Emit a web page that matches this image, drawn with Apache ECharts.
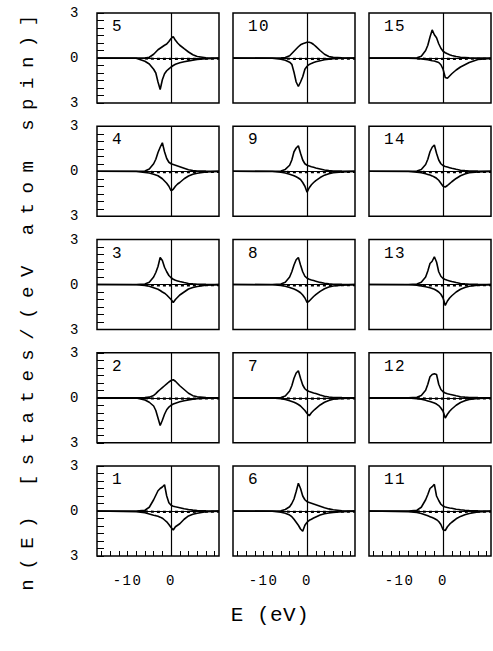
<!DOCTYPE html>
<html><head><meta charset="utf-8">
<script src="https://cdn.jsdelivr.net/npm/echarts@6/dist/echarts.min.js"></script>
<style>
html,body{margin:0;padding:0;background:#fff}
#c{width:493px;height:651px}
#c text{letter-spacing:1.5px}
</style></head><body><div id="c"></div>
<script>
// Energy grid (eV) shared by all panels
const energy = [-17,-8,-6,-5,-4,-3.5,-3,-2.5,-2,-1.5,-1,-0.5,0,0.5,1,1.5,2,3,4,5,6,8,11];

const up1 = [0,0,0.05,0.25,0.75,1.05,1.35,1.5,1.6,1.75,1.0,0.55,0.38,0.32,0.28,0.25,0.22,0.15,0.1,0.06,0.03,0.01,0];
const down1 = [0,-0.05,-0.12,-0.2,-0.28,-0.31,-0.35,-0.41,-0.48,-0.6,-0.72,-0.9,-1.1,-1.27,-1.05,-0.95,-0.85,-0.55,-0.33,-0.22,-0.15,-0.05,-0.01];
const up2 = [0,0,0.01,0.04,0.15,0.28,0.42,0.55,0.68,0.8,0.92,1.05,1.15,1.2,1.1,0.95,0.8,0.55,0.3,0.14,0.06,0.01,0];
const down2 = [0,-0.02,-0.15,-0.3,-0.55,-0.85,-1.35,-1.85,-1.5,-1.1,-0.8,-0.62,-0.5,-0.42,-0.36,-0.31,-0.27,-0.2,-0.14,-0.1,-0.07,-0.03,-0.01];
const up3 = [0,0,0.03,0.15,0.5,0.8,1.2,1.8,1.6,1.15,0.85,0.6,0.45,0.35,0.28,0.24,0.2,0.13,0.07,0.04,0.02,0.01,0];
const down3 = [0,-0.02,-0.07,-0.12,-0.22,-0.27,-0.32,-0.4,-0.5,-0.58,-0.7,-0.85,-1.0,-1.2,-1.0,-0.85,-0.7,-0.5,-0.3,-0.2,-0.13,-0.05,-0.01];
const up4 = [0,0,0.02,0.15,0.5,0.8,1.25,1.6,1.9,1.3,0.85,0.6,0.5,0.45,0.4,0.35,0.3,0.2,0.1,0.05,0.02,0.01,0];
const down4 = [0,-0.02,-0.08,-0.12,-0.2,-0.25,-0.3,-0.4,-0.5,-0.65,-0.8,-1.0,-1.3,-1.2,-1.0,-0.85,-0.75,-0.5,-0.32,-0.2,-0.13,-0.05,-0.01];
const up5 = [0,0,0,0.05,0.25,0.4,0.55,0.65,0.75,0.85,0.93,1.1,1.3,1.42,1.18,1.0,0.85,0.62,0.4,0.22,0.1,0.02,0];
const down5 = [0,-0.02,-0.22,-0.4,-0.75,-1.0,-1.6,-2.1,-1.45,-1.05,-0.85,-0.72,-0.6,-0.5,-0.42,-0.37,-0.32,-0.25,-0.19,-0.14,-0.1,-0.05,-0.02];
const up6 = [0,0,0.02,0.1,0.28,0.5,0.8,1.3,1.85,1.5,1.0,0.75,0.62,0.57,0.52,0.47,0.42,0.32,0.22,0.14,0.08,0.02,0];
const down6 = [0,-0.02,-0.08,-0.15,-0.27,-0.38,-0.55,-0.75,-0.95,-1.2,-1.35,-0.95,-0.75,-0.62,-0.55,-0.47,-0.4,-0.27,-0.18,-0.13,-0.1,-0.04,-0.01];
const up7 = [0,0,0.02,0.12,0.45,0.8,1.3,1.65,1.8,1.3,0.85,0.6,0.48,0.42,0.37,0.32,0.28,0.18,0.1,0.05,0.02,0.01,0];
const down7 = [0,-0.02,-0.07,-0.12,-0.2,-0.25,-0.3,-0.37,-0.45,-0.55,-0.7,-0.85,-1.05,-1.2,-1.0,-0.85,-0.72,-0.48,-0.3,-0.18,-0.1,-0.04,-0.01];
const up8 = [0,0,0.03,0.15,0.5,0.85,1.3,1.65,1.8,1.3,0.85,0.55,0.42,0.35,0.3,0.26,0.22,0.14,0.08,0.04,0.02,0.01,0];
const down8 = [0,-0.02,-0.07,-0.12,-0.2,-0.25,-0.3,-0.37,-0.45,-0.55,-0.7,-0.9,-1.2,-1.1,-0.95,-0.8,-0.68,-0.46,-0.28,-0.17,-0.1,-0.04,-0.01];
const up9 = [0,0,0.02,0.12,0.4,0.75,1.3,1.55,1.7,1.2,0.75,0.5,0.4,0.35,0.3,0.26,0.22,0.15,0.08,0.04,0.02,0.01,0];
const down9 = [0,-0.02,-0.07,-0.12,-0.2,-0.25,-0.3,-0.37,-0.45,-0.55,-0.75,-1.0,-1.4,-1.1,-0.9,-0.75,-0.62,-0.42,-0.26,-0.16,-0.1,-0.04,-0.01];
const up10 = [0,0,0,0.03,0.15,0.3,0.45,0.6,0.75,0.88,0.95,1.0,1.05,1.05,1.0,0.9,0.78,0.5,0.25,0.1,0.04,0.01,0];
const down10 = [0,-0.02,-0.08,-0.15,-0.28,-0.42,-0.95,-1.6,-1.9,-1.6,-1.25,-0.75,-0.55,-0.43,-0.36,-0.3,-0.25,-0.18,-0.12,-0.08,-0.05,-0.02,-0.01];
const up11 = [0,0,0.05,0.25,0.75,1.1,1.5,1.62,1.78,1.0,0.7,0.45,0.33,0.27,0.23,0.2,0.18,0.12,0.08,0.05,0.03,0.01,0];
const down11 = [0,-0.04,-0.1,-0.17,-0.27,-0.32,-0.38,-0.44,-0.5,-0.58,-0.7,-0.9,-1.25,-1.3,-1.05,-0.88,-0.75,-0.52,-0.36,-0.25,-0.17,-0.07,-0.02];
const up12 = [0,0,0.03,0.15,0.5,0.9,1.4,1.55,1.6,1.55,0.9,0.55,0.4,0.32,0.27,0.23,0.2,0.13,0.07,0.04,0.02,0.01,0];
const down12 = [0,-0.02,-0.06,-0.1,-0.17,-0.21,-0.25,-0.3,-0.35,-0.42,-0.52,-0.68,-0.9,-1.35,-1.1,-0.9,-0.75,-0.5,-0.32,-0.2,-0.12,-0.05,-0.01];
const up13 = [0,0,0.03,0.15,0.5,0.9,1.4,1.55,1.85,1.5,0.85,0.55,0.4,0.33,0.28,0.24,0.2,0.13,0.07,0.04,0.02,0.01,0];
const down13 = [0,-0.02,-0.05,-0.09,-0.15,-0.18,-0.22,-0.27,-0.32,-0.4,-0.5,-0.65,-0.9,-1.4,-1.1,-0.9,-0.75,-0.5,-0.32,-0.2,-0.12,-0.05,-0.01];
const up14 = [0,0,0.02,0.12,0.45,0.8,1.3,1.6,1.75,1.2,0.75,0.5,0.38,0.32,0.28,0.24,0.2,0.13,0.07,0.04,0.02,0.01,0];
const down14 = [0,-0.02,-0.06,-0.1,-0.17,-0.21,-0.25,-0.31,-0.38,-0.47,-0.6,-0.8,-1.0,-1.05,-0.95,-0.82,-0.7,-0.48,-0.3,-0.18,-0.1,-0.04,-0.01];
const up15 = [0,0,0.02,0.12,0.5,0.85,1.4,1.87,1.55,1.35,0.95,0.65,0.45,0.35,0.28,0.22,0.17,0.1,0.05,0.03,0.01,0,0];
const down15 = [0,-0.01,-0.03,-0.06,-0.1,-0.12,-0.15,-0.18,-0.2,-0.25,-0.3,-0.45,-0.75,-1.3,-1.35,-1.2,-1.05,-0.8,-0.6,-0.45,-0.3,-0.1,-0.03];

// dotted near-zero curve
const dotE = [-6,-4,-2,0,2,4,6,8,11];
const dotV = [-0.03,-0.05,-0.06,-0.06,-0.06,-0.06,-0.05,-0.05,-0.05];

const xTicks = [-16,-14,-12,-10,-8,-6,-4,-2,0,2,4,6,8,10];
const xLabels = [-10,0];

const panels = {1:[up1,down1],2:[up2,down2],3:[up3,down3],4:[up4,down4],5:[up5,down5],
  6:[up6,down6],7:[up7,down7],8:[up8,down8],9:[up9,down9],10:[up10,down10],
  11:[up11,down11],12:[up12,down12],13:[up13,down13],14:[up14,down14],15:[up15,down15]};

const FONT = '"Liberation Mono", "DejaVu Sans Mono", monospace';
const L0 = 97, DX = 136, W = 122, T0 = 13, DY = 113.25, H = 90;

const grid = [], xAxis = [], yAxis = [], series = [], graphic = [];
for (let c = 0; c < 3; c++) {
  for (let r = 0; r < 5; r++) {
    const i = c * 5 + r;
    const id = c * 5 + (5 - r);
    const left = L0 + DX * c, top = T0 + DY * r;
    grid.push({left: left, top: top, width: W, height: H, show: true,
      borderColor: '#000', borderWidth: 1.5, backgroundColor: 'transparent'});
    const bottomRow = r === 4, leftCol = c === 0;
    xAxis.push({gridIndex: i, type: 'value', min: -17, max: 11, position: 'bottom',
      axisLine: {show: false, onZero: false}, splitLine: {show: false},
      axisTick: {show: bottomRow, inside: true, length: 5, customValues: xTicks,
        lineStyle: {color: '#000', width: 1}},
      axisLabel: {show: bottomRow, customValues: xLabels, color: '#000',
        fontFamily: FONT, fontSize: 14, margin: 18}});
    yAxis.push({gridIndex: i, type: 'value', min: -3, max: 3, interval: 0.5, position: 'left',
      axisLine: {show: false, onZero: false}, splitLine: {show: false},
      axisTick: {show: leftCol, inside: true, length: 7, lineStyle: {color: '#000', width: 1}},
      axisLabel: {show: leftCol, color: '#000', fontFamily: FONT, fontSize: 14, margin: 17,
        formatter: v => (v === 0 ? '0' : (Math.abs(v) === 3 ? '3' : ''))}});
    const [u, d] = panels[id];
    series.push({type: 'line', xAxisIndex: i, yAxisIndex: i, showSymbol: false, silent: true,
      data: energy.map((e, k) => [e, u[k]]), lineStyle: {color: '#000', width: 1.6},
      markLine: {silent: true, symbol: ['none', 'none'], label: {show: false},
        lineStyle: {color: '#000', width: 1.2, type: 'solid'},
        data: [{yAxis: 0}, {xAxis: 0}]}});
    series.push({type: 'line', xAxisIndex: i, yAxisIndex: i, showSymbol: false, silent: true,
      data: energy.map((e, k) => [e, d[k]]), lineStyle: {color: '#000', width: 1.6}});
    series.push({type: 'line', xAxisIndex: i, yAxisIndex: i, showSymbol: false, silent: true,
      data: dotE.map((e, k) => [e, dotV[k]]), lineStyle: {color: '#000', width: 2.2, type: [3, 3]}});
    graphic.push({type: 'text', x: left + 15, y: top + 14,
      style: {text: String(id), fontFamily: FONT, fontSize: 16, fill: '#000', align: 'left', verticalAlign: 'middle'}});
  }
}
graphic.push({type: 'text', x: 28, y: 298, rotation: Math.PI / 2,
  style: {text: 'n(E) [states/(eV atom spin)]', fontFamily: FONT, fontSize: 19, fill: '#000',
    align: 'center', verticalAlign: 'middle'}});
graphic.push({type: 'text', x: 270, y: 615,
  style: {text: 'E (eV)', fontFamily: FONT, fontSize: 21, fill: '#000', align: 'center', verticalAlign: 'middle'}});

const chart = echarts.init(document.getElementById('c'), null, {renderer: 'svg'});
chart.setOption({animation: false, grid, xAxis, yAxis, series, graphic});

function spacing() {
  document.querySelectorAll('#c text').forEach(t => {
    const s = t.textContent;
    if (s.indexOf('states') >= 0) t.style.letterSpacing = '9.5px';
    else if (s === 'E (eV)') t.style.letterSpacing = '0.5px';
  });
}
spacing();
chart.on('finished', spacing);
setTimeout(spacing, 50);
</script></body></html>
